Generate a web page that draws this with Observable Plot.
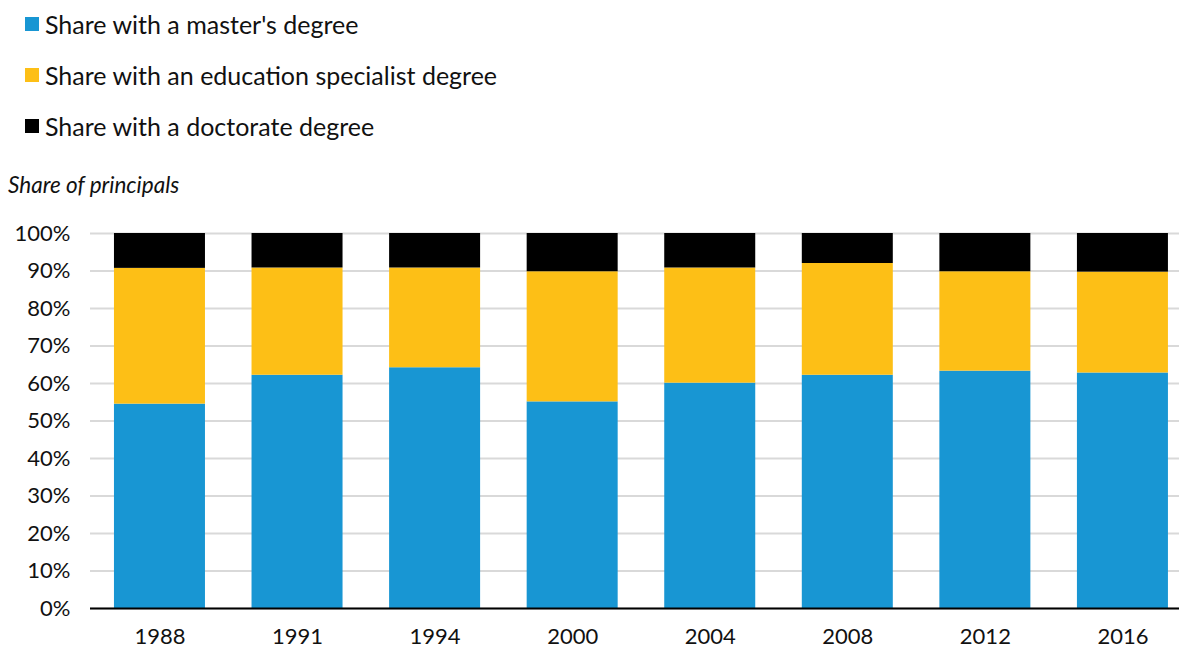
<!DOCTYPE html>
<html><head><meta charset="utf-8">
<script src="https://cdn.jsdelivr.net/npm/d3@7"></script>
<script src="https://cdn.jsdelivr.net/npm/@observablehq/plot@0.6"></script>
<style>
body{margin:0;background:#fff;font-family:Lato,sans-serif;color:#111;width:1179px;height:648px;overflow:hidden;position:relative;}
.item{position:absolute;left:25px;height:30px;display:flex;align-items:center;font-size:25px;white-space:nowrap;}
.sw{width:14px;height:14px;margin-right:6px;}
#ylabel{position:absolute;left:8px;top:171px;font-size:22.5px;font-style:italic;line-height:28px;}
#chart{position:absolute;left:0;top:210px;}
</style></head><body>
<div id="legend"></div>
<div id="ylabel">Share of principals</div>
<div id="chart"></div>
<script>
const years = ["1988","1991","1994","2000","2004","2008","2012","2016"];
const masters = [54.5, 62.2, 64.2, 55.1, 60.1, 62.2, 63.3, 62.8];
const specialist = [36.2, 28.6, 26.6, 34.7, 30.7, 29.8, 26.5, 26.9];
const doctorate = [9.3, 9.2, 9.2, 10.2, 9.2, 8.0, 10.2, 10.3];
const seriesNames = ["Share with a master's degree","Share with an education specialist degree","Share with a doctorate degree"];
const colors = ["#1896d3","#fdbf16","#000000"];
const yTicks = [0,10,20,30,40,50,60,70,80,90,100];

const seriesValues = [masters, specialist, doctorate];
const data = years.flatMap((y,i)=>seriesNames.map((s,k)=>({year:y, series:s, value:seriesValues[k][i]})));

const legend = document.getElementById("legend");
seriesNames.forEach((s,k)=>{
  const d = document.createElement("div");
  d.className="item";
  d.style.top = (9 + k*51) + "px";
  d.innerHTML = `<span class="sw" style="background:${colors[k]}"></span><span>${s.replace(/'/g,"&#39;")}</span>`;
  legend.appendChild(d);
});

const chart = Plot.plot({
  width:1179, height:438, marginTop:23, marginBottom:40, marginLeft:90, marginRight:0,
  style:{fontFamily:"Lato, sans-serif", fontSize:"22px", color:"#111", background:"#fff"},
  x:{domain:years, range:[67.4,1214.5], padding:0.3385, round:false, label:null},
  y:{domain:[0,100], label:null},
  color:{domain:seriesNames, range:colors},
  marks:[
    Plot.gridY(yTicks,{stroke:"#d9d9d9", strokeOpacity:1, strokeWidth:2}),
    Plot.barY(data,{x:"year", y:"value", fill:"series", order:seriesNames}),
    Plot.ruleY([0],{stroke:"#000", strokeWidth:2}),
    Plot.axisY(yTicks,{tickSize:0, tickPadding:20, tickFormat:d=>d+"%", label:null, fontSize:22}),
    Plot.axisX({tickSize:0, tickPadding:20, label:null, fontSize:22})
  ]
});
document.getElementById("chart").appendChild(chart);
</script>
</body></html>
